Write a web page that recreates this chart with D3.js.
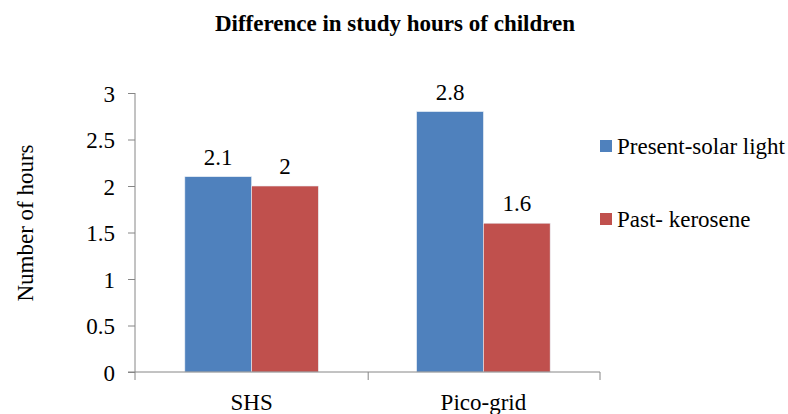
<!DOCTYPE html>
<html>
<head>
<meta charset="utf-8">
<script src="https://cdn.jsdelivr.net/npm/d3@7"></script>
<style>
	body { margin: 0; background: #fff; }
</style>
</head>
<body>
<div id="chart"></div>
<script>
const categories = ["SHS", "Pico-grid"]
const seriesNames = ["Present-solar light", "Past- kerosene"]
const presentSolar = [2.1, 2.8]
const pastKerosene = [2, 1.6]
const yTicks = [0, 0.5, 1, 1.5, 2, 2.5, 3]
const colors = ["#4f81bd", "#c0504d"]

const FONT = "Liberation Serif, DejaVu Serif, serif"
const FS = 23
const W = 788, H = 414
const MARGIN = { TOP: 93, BOTTOM: 42, LEFT: 135, RIGHT: 188 }
const WIDTH = W - MARGIN.LEFT - MARGIN.RIGHT
const HEIGHT = H - MARGIN.TOP - MARGIN.BOTTOM

const data = categories.map((c, i) => ({
	cat: c,
	values: [
		{ key: seriesNames[0], value: presentSolar[i] },
		{ key: seriesNames[1], value: pastKerosene[i] }
	]
}))

const svg = d3.select("#chart").append("svg")
	.attr("width", W)
	.attr("height", H)
	.attr("font-family", FONT)

svg.append("text")
	.attr("x", 395)
	.attr("y", 31)
	.attr("text-anchor", "middle")
	.attr("font-family", FONT)
	.attr("font-weight", "bold")
	.attr("font-size", 23)
	.text("Difference in study hours of children")

const g = svg.append("g")
	.attr("transform", `translate(${MARGIN.LEFT}, ${MARGIN.TOP})`)

const x0 = d3.scaleBand()
	.domain(categories)
	.range([0, WIDTH])
	.paddingInner(0.424)
	.paddingOuter(0.215)

const x1 = d3.scaleBand()
	.domain(seriesNames)
	.range([0, x0.bandwidth()])

const y = d3.scaleLinear()
	.domain([0, 3])
	.range([HEIGHT, 0])

// bars
const groups = g.selectAll("g.cat")
	.data(data)
	.enter().append("g")
		.attr("class", "cat")
		.attr("transform", d => `translate(${x0(d.cat)}, 0)`)

groups.selectAll("rect")
	.data(d => d.values)
	.enter().append("rect")
		.attr("x", d => x1(d.key))
		.attr("y", d => y(d.value))
		.attr("width", x1.bandwidth())
		.attr("height", d => HEIGHT - y(d.value))
		.attr("fill", (d, i) => colors[i])
		.attr("stroke", "#e8eef6")
		.attr("stroke-width", 0.6)

groups.selectAll("text.val")
	.data(d => d.values)
	.enter().append("text")
		.attr("class", "val")
		.attr("x", d => x1(d.key) + x1.bandwidth() / 2)
		.attr("y", d => y(d.value) - 12)
		.attr("text-anchor", "middle")
		.attr("font-family", FONT)
		.attr("font-size", FS)
		.text(d => d.value)

// y axis
const yAxis = g.append("g")
	.call(d3.axisLeft(y).tickValues(yTicks).tickSize(7).tickPadding(13).tickFormat(d3.format("")))
yAxis.attr("font-family", FONT).attr("font-size", FS)
yAxis.selectAll("text")
	.attr("fill", "#000")
	.attr("dy", "0.35em")
yAxis.select(".domain").attr("stroke", "#868686").attr("d", `M0,${HEIGHT}V0`)
yAxis.selectAll(".tick line").attr("stroke", "#868686")

// x axis, ticks on the band edges
const xAxis = g.append("g")
	.attr("transform", `translate(0, ${HEIGHT})`)
xAxis.append("line")
	.attr("x1", -7).attr("x2", WIDTH)
	.attr("stroke", "#868686")
xAxis.selectAll("line.tick")
	.data([0, ...categories.map(c => x0(c) + x0.bandwidth() + x0.step() * x0.paddingOuter())])
	.enter().append("line")
		.attr("x1", d => d).attr("x2", d => d)
		.attr("y1", 0).attr("y2", 8)
		.attr("stroke", "#868686")
xAxis.selectAll("text")
	.data(categories)
	.enter().append("text")
		.attr("x", d => x0(d) + x0.bandwidth() / 2)
		.attr("y", 38)
		.attr("text-anchor", "middle")
		.attr("font-family", FONT)
		.attr("font-size", FS)
		.text(d => d)

svg.append("text")
	.attr("transform", `translate(33, 223) rotate(-90)`)
	.attr("text-anchor", "middle")
	.attr("font-family", FONT)
	.attr("font-size", FS)
	.text("Number of hours")

// legend
const legend = svg.append("g")
	.attr("transform", "translate(600, 140)")
const items = legend.selectAll("g")
	.data(seriesNames)
	.enter().append("g")
		.attr("transform", (d, i) => `translate(0, ${i * 73})`)
items.append("rect")
	.attr("width", 12).attr("height", 12)
	.attr("fill", (d, i) => colors[i])
items.append("text")
	.attr("x", 17)
	.attr("y", 6)
	.attr("dy", "0.35em")
	.attr("font-family", FONT)
	.attr("font-size", FS)
	.text(d => d)
</script>
</body>
</html>
